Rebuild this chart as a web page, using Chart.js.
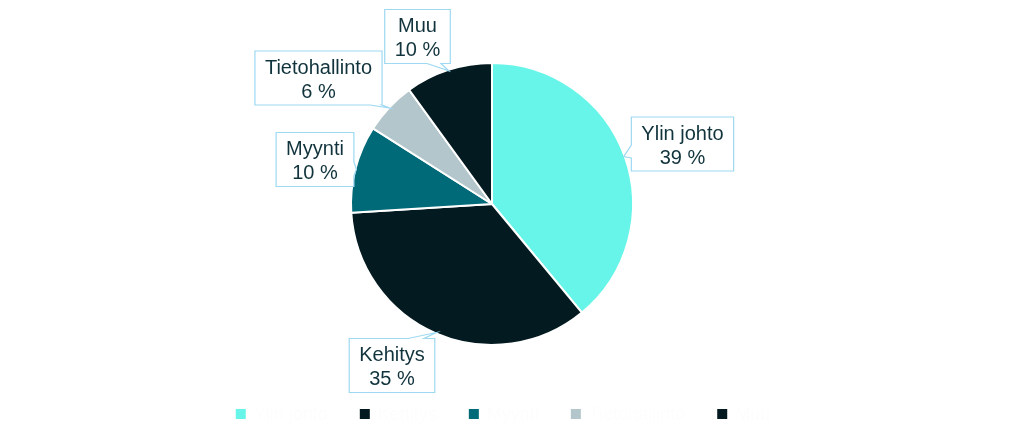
<!DOCTYPE html>
<html lang="fi">
<head>
<meta charset="utf-8">
<title>Pie</title>
<script src="https://cdn.jsdelivr.net/npm/chart.js@4/dist/chart.umd.min.js"></script>
<style>
    html, body { margin: 0; padding: 0; background: #ffffff; }
    #wrap { position: relative; width: 1024px; height: 438px; }
</style>
</head>
<body>
<div id="wrap"><canvas id="pieChart"></canvas></div>
<script>
    const categories = ['Ylin johto', 'Kehitys', 'Myynti', 'Tietohallinto', 'Muu'];
    const shares = [39, 35, 10, 6, 10];
    const sliceColors = ['#66f5e8', '#021a20', '#006a78', '#b3c6cc', '#021a20'];

    // callout box centres and where the pointer leaves the box
    const calloutLayout = [
        { cx: 682.5, cy: 144, side: 'left', from: 145, to: 158 },
        { cx: 392, cy: 365.5, side: 'top', from: 408, to: 424 },
        { cx: 315, cy: 159.5, side: 'right', from: 162, to: 176 },
        { cx: 318.5, cy: 78, side: 'bottom', from: 370, to: 382 },
        { cx: 417.5, cy: 36.5, side: 'bottom', from: 427, to: 441 }
    ];

    const calloutPlugin = {
        id: 'calloutPlugin',
        afterDatasetsDraw(chart) {
            const ctx = chart.ctx;
            const arcs = chart.getDatasetMeta(0).data;
            ctx.save();
            ctx.font = '20px "Liberation Sans", Arial, sans-serif';
            arcs.forEach((arc, i) => {
                const lay = calloutLayout[i];
                const mid = (arc.startAngle + arc.endAngle) / 2;
                const r = arc.outerRadius - 1;
                const tip = { x: arc.x + Math.cos(mid) * r, y: arc.y + Math.sin(mid) * r };
                const line1 = categories[i];
                const line2 = shares[i] + ' %';
                const w = Math.max(ctx.measureText(line1).width, ctx.measureText(line2).width) + 20;
                const h = 54;
                const L = lay.cx - w / 2, R = lay.cx + w / 2, T = lay.cy - h / 2, B = lay.cy + h / 2;

                ctx.beginPath();
                ctx.moveTo(L, T);
                if (lay.side === 'top') { ctx.lineTo(lay.from, T); ctx.lineTo(tip.x, tip.y); ctx.lineTo(lay.to, T); }
                ctx.lineTo(R, T);
                if (lay.side === 'right') { ctx.lineTo(R, lay.from); ctx.lineTo(tip.x, tip.y); ctx.lineTo(R, lay.to); }
                ctx.lineTo(R, B);
                if (lay.side === 'bottom') { ctx.lineTo(lay.to, B); ctx.lineTo(tip.x, tip.y); ctx.lineTo(lay.from, B); }
                ctx.lineTo(L, B);
                if (lay.side === 'left') { ctx.lineTo(L, lay.to); ctx.lineTo(tip.x, tip.y); ctx.lineTo(L, lay.from); }
                ctx.closePath();
                ctx.fillStyle = '#ffffff';
                ctx.fill();
                ctx.lineWidth = 1.2;
                ctx.strokeStyle = '#9ed9f2';
                ctx.stroke();

                ctx.fillStyle = '#11333c';
                ctx.textAlign = 'center';
                ctx.textBaseline = 'alphabetic';
                ctx.fillText(line1, lay.cx, lay.cy - 4.5);
                ctx.fillText(line2, lay.cx, lay.cy + 19.5);
            });
            ctx.restore();
        }
    };

    // legend drawn by hand so it can sit a bit off the pie centre
    const legendPlugin = {
        id: 'legendPlugin',
        afterDraw(chart) {
            const ctx = chart.ctx;
            ctx.save();
            ctx.font = '18px "Liberation Sans", Arial, sans-serif';
            const box = 10, gapText = 8, gapItem = 32;
            const widths = categories.map(c => box + gapText + ctx.measureText(c).width);
            const total = widths.reduce((a, b) => a + b, 0) + gapItem * (categories.length - 1);
            let x = chart.width / 2 - 9 - total / 2;
            const y = 414;
            ctx.textAlign = 'left';
            ctx.textBaseline = 'middle';
            categories.forEach((c, i) => {
                ctx.fillStyle = sliceColors[i];
                ctx.fillRect(x, y - box / 2, box, box);
                ctx.fillStyle = '#fdfdfd';
                ctx.fillText(c, x + box + gapText, y + 1);
                x += widths[i] + gapItem;
            });
            ctx.restore();
        }
    };

    new Chart(document.getElementById('pieChart').getContext('2d'), {
        type: 'pie',
        data: {
            labels: categories,
            datasets: [{
                data: shares,
                backgroundColor: sliceColors,
                borderColor: '#ffffff',
                borderWidth: 2
            }]
        },
        options: {
            responsive: true,
            maintainAspectRatio: false,
            animation: false,
            radius: 141,
            layout: { padding: { left: 0, right: 40, top: 0, bottom: 30 } },
            plugins: {
                legend: { display: false },
                tooltip: { enabled: false }
            }
        },
        plugins: [calloutPlugin, legendPlugin]
    });
</script>
</body>
</html>
